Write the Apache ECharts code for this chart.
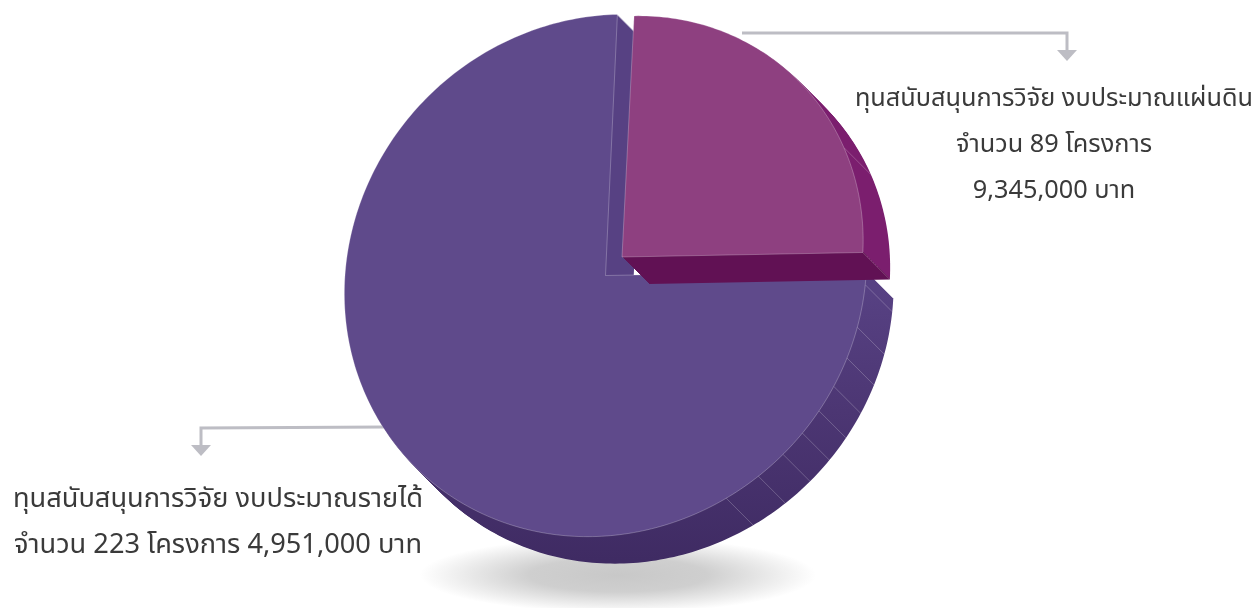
<!DOCTYPE html>
<html><head><meta charset="utf-8">
<style>html,body{margin:0;padding:0;background:#fff}#c{width:1258px;height:608px}</style>
<script src="https://cdn.jsdelivr.net/npm/echarts@6/dist/echarts.min.js"></script>
</head><body><div id="c"></div>
<script>
// Share of the circle each slice takes in the picture (percent)
const revenueShare = [74.9];
const landShare = [25];
const revenueLabel = ['ทุนสนับสนุนการวิจัย งบประมาณรายได้', 'จำนวน 223 โครงการ 4,951,000 บาท'];
const landLabel = ['ทุนสนับสนุนการวิจัย งบประมาณแผ่นดิน', 'จำนวน 89 โครงการ', '9,345,000 บาท'];

const FONT = '"Noto Sans Thai","Noto Sans","Open Sans",sans-serif';
const depth = 27;
// the disc is slightly sheared: p = mean radius, q = shear term
const revGeo = {c:[605.5,275.5], p:261, q:-9, start:1, seams:[4, 13.4, 20.4, 27.1, 33.2, 39.1, 45.2, 52.2, 60.5]};
const landGeo = {c:[622,257], p:241, q:-8.3, start:-89.1, seams:[0.9, -25]};

const revDepthFill = {type:'linear',global:true,x:0,y:290,x2:0,y2:560,colorStops:[
  {offset:0,color:'#574183'},{offset:.45,color:'#4c3673'},{offset:1,color:'#3f2b63'}]};
// hard stop along the corner line of the lifted slice
const landDepthFill = {type:'linear',global:true,x:763,y:352,x2:963,y2:152,colorStops:[
  {offset:0,color:'#611154'},{offset:.5,color:'#611154'},{offset:.5,color:'#7b1e6e'},{offset:1,color:'#7b1e6e'}]};

const rimPoint = (g, deg, d) => {
  const t = deg*Math.PI/180, cs = Math.cos(t), sn = Math.sin(t);
  return [g.c[0]+d+g.p*cs+g.q*sn, g.c[1]+d+g.q*cs+g.p*sn];
};
function wedge(g, sweep, d) {
  const pts = [[g.c[0]+d, g.c[1]+d]], n = Math.ceil(sweep);
  for (let i = 0; i <= n; i++) pts.push(rimPoint(g, g.start+sweep*i/n, d));
  return pts;
}
function sliceSeries(name, share, geo, faceColor, depthFill) {
  return {
    type:'custom', name:name, coordinateSystem:'none', silent:true, animation:false, clip:false,
    data:[share],
    renderItem:(params, api) => {
      const sweep = api.value(0)/100*360, children = [];
      for (let d = depth; d >= 1; d--)
        children.push({type:'polygon', shape:{points:wedge(geo,sweep,d)}, style:{fill:depthFill}});
      geo.seams.forEach(a => {
        const a0 = rimPoint(geo,a,0), a1 = rimPoint(geo,a,depth);
        children.push({type:'line', shape:{x1:a0[0],y1:a0[1],x2:a1[0],y2:a1[1]},
          style:{stroke:'rgba(255,255,255,.22)',lineWidth:1}});
      });
      children.push({type:'polygon', shape:{points:wedge(geo,sweep,0)},
        style:{fill:faceColor, stroke:'rgba(255,255,255,.25)', lineWidth:1}});
      return {type:'group', children:children};
    }
  };
}
const series = [
  sliceSeries('งบประมาณรายได้', revenueShare, revGeo, '#5f4a8b', revDepthFill),
  sliceSeries('งบประมาณแผ่นดิน', landShare, landGeo, '#8e4080', landDepthFill)
];

const lineStyle = {stroke:'#bdbdc4',lineWidth:3,fill:null};
const arrowStyle = {fill:'#bdbdc4'};
const txt = (s, x, y, size) => ({type:'text', z:10, x:x, y:y, silent:true,
  style:{text:s, fill:'#3a3a3a', font:size+'px '+FONT, align:'center', verticalAlign:'middle'}});

const graphic = [
  {type:'circle', z:0, silent:true, x:618, y:575, scaleY:.19, shape:{cx:0,cy:0,r:198},
   style:{fill:{type:'radial',x:.5,y:.5,r:.5,colorStops:[{offset:0,color:'#c8c8c8'},{offset:.45,color:'#cfcfcf'},{offset:1,color:'#ffffff'}]}}},
  {type:'polyline', z:0, silent:true, shape:{points:[[742,33],[1067,33],[1067,51]]}, style:lineStyle},
  {type:'polygon', z:0, silent:true, shape:{points:[[1057,50],[1077,50],[1067,61]]}, style:arrowStyle},
  {type:'polyline', z:0, silent:true, shape:{points:[[385,427],[201,428],[201,446]]}, style:lineStyle},
  {type:'polygon', z:0, silent:true, shape:{points:[[191,445],[211,445],[201,456]]}, style:arrowStyle},
  ...landLabel.map((s,i)=>txt(s,1054,101+46*i,25.3)),
  ...revenueLabel.map((s,i)=>txt(s,218,502+46*i,27.2))
];
const chart = echarts.init(document.getElementById('c'));
chart.setOption({backgroundColor:'#fff', animation:false, series:series, graphic:graphic});
</script></body></html>
